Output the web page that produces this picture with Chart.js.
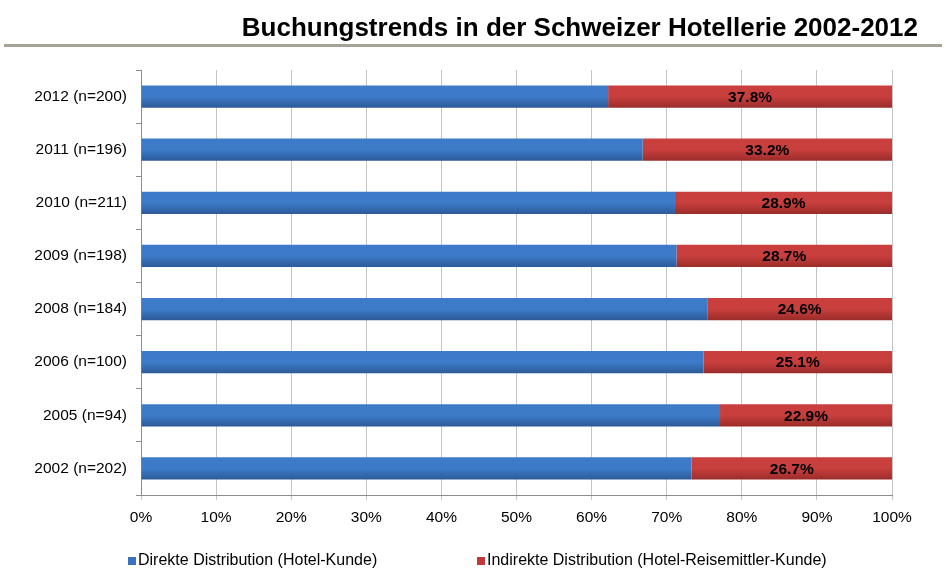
<!DOCTYPE html>
<html><head><meta charset="utf-8">
<script src="https://cdn.jsdelivr.net/npm/chart.js@4/dist/chart.umd.min.js"></script>
<style>html,body{margin:0;padding:0;background:#fff}#w{width:946px;height:582px}</style>
</head><body><div id="w"><canvas id="c"></canvas></div>
<script>
const categories = ['2012 (n=200)','2011 (n=196)','2010 (n=211)','2009 (n=198)','2008 (n=184)','2006 (n=100)','2005 (n=94)','2002 (n=202)'];
const direkte = [62.2, 66.8, 71.1, 71.3, 75.4, 74.9, 77.1, 73.3];
const indirekte = [37.8, 33.2, 28.9, 28.7, 24.6, 25.1, 22.9, 26.7];
const xTicks = [0,10,20,30,40,50,60,70,80,90,100];
const seriesNames = ['Direkte Distribution (Hotel-Kunde)','Indirekte Distribution (Hotel-Reisemittler-Kunde)'];
const titleText = 'Buchungstrends in der Schweizer Hotellerie 2002-2012';
const FONT = '"Liberation Sans", Arial, sans-serif';
const BAR_PCT = 0.42;

function grad(top, bottom){
  return function(ctx){
    const chart = ctx.chart;
    const ys = chart.scales.y;
    if (!ys || ctx.dataIndex === undefined) return top;
    const c = ys.getPixelForValue(ctx.dataIndex);
    const band = (ys.bottom - ys.top) / categories.length;
    const h = band * BAR_PCT / 2;
    if (!isFinite(c) || !isFinite(h) || h <= 0) return top;
    const g = chart.ctx.createLinearGradient(0, c - h, 0, c + h);
    g.addColorStop(0, top);
    g.addColorStop(0.5, top);
    g.addColorStop(1, bottom);
    return g;
  };
}

const deco = {
  id: 'deco',
  afterDraw(chart){
    const ctx = chart.ctx;
    ctx.save();
    ctx.font = 'bold 26px ' + FONT;
    ctx.fillStyle = '#000';
    ctx.textAlign = 'right';
    ctx.textBaseline = 'alphabetic';
    ctx.fillText(titleText, 918, 36);
    ctx.fillStyle = '#a8a196';
    ctx.fillRect(4, 44, 938, 3);
    const meta = chart.getDatasetMeta(1);
    ctx.font = 'bold 15.5px ' + FONT;
    ctx.fillStyle = '#000';
    ctx.textAlign = 'center';
    ctx.textBaseline = 'middle';
    meta.data.forEach((el, i) => {
      const p = el.getProps(['x','y','base']);
      ctx.fillText(indirekte[i].toFixed(1) + '%', (p.x + p.base) / 2, p.y + 1);
    });
    ctx.font = '16px ' + FONT;
    ctx.textAlign = 'left';
    const items = [[138, '#3a72c0', seriesNames[0]], [487, '#c0393a', seriesNames[1]]];
    items.forEach(([x, col, t]) => {
      ctx.fillStyle = col;
      ctx.fillRect(x - 10, 557, 8, 8);
      ctx.fillStyle = '#000';
      ctx.fillText(t, x, 561);
    });
    ctx.restore();
  }
};

const chart = new Chart(document.getElementById('c'), {
  type: 'bar',
  data: {
    labels: categories,
    datasets: [
      { label: seriesNames[0], data: direkte, backgroundColor: grad('#3d7bc8', '#2c5a98'), barPercentage: BAR_PCT, categoryPercentage: 1 },
      { label: seriesNames[1], data: indirekte, backgroundColor: grad('#c83f3d', '#9a2c2a'), barPercentage: BAR_PCT, categoryPercentage: 1 }
    ]
  },
  options: {
    indexAxis: 'y',
    responsive: true,
    maintainAspectRatio: false,
    animation: false,
    layout: { padding: { top: 70, right: 54, bottom: 52, left: 0 } },
    plugins: { legend: { display: false }, title: { display: false }, tooltip: { enabled: false } },
    scales: {
      x: {
        stacked: true, min: 0, max: 100,
        afterBuildTicks(s){ s.ticks = xTicks.map(v => ({ value: v })); },
        afterFit(s){ s.height = 35; },
        ticks: { callback: v => v + '%', font: { family: FONT, size: 15.5 }, color: '#000', padding: 8, maxRotation: 0 },
        grid: { color: '#c4c4c4', lineWidth: 1, tickLength: 5, drawTicks: true },
        border: { color: '#8c8c8c', width: 1 }
      },
      y: {
        stacked: true,
        afterFit(s){ s.width = 141; },
        ticks: { font: { family: FONT, size: 15.5 }, color: '#000', padding: 9 },
        grid: { drawOnChartArea: false, offset: true, tickLength: 5, color: '#8c8c8c' },
        border: { color: '#8c8c8c', width: 1 }
      }
    }
  },
  plugins: [deco]
});
chart.update();
</script></body></html>
